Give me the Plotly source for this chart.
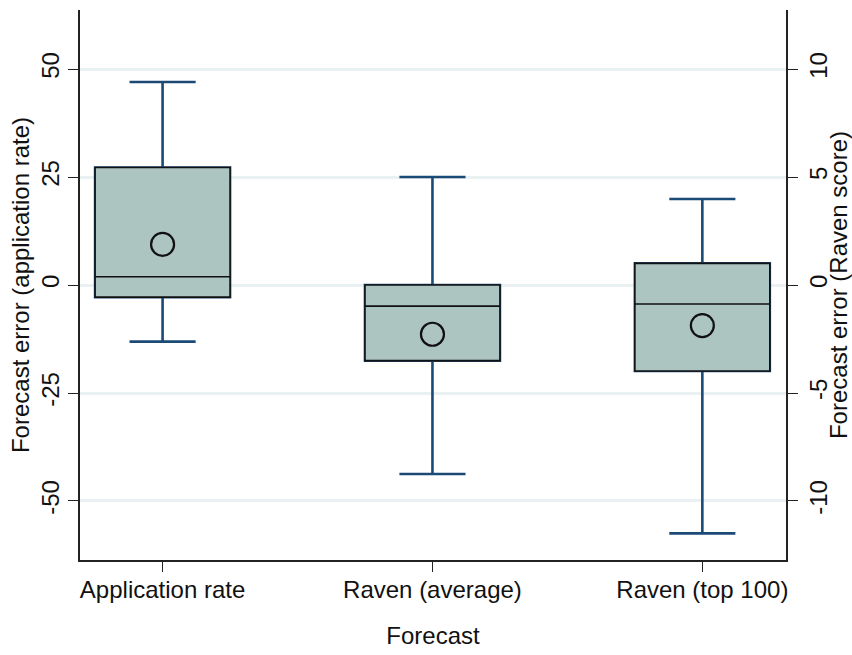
import plotly.graph_objects as go

# Forecast categories along the x axis
categories = ["Application rate", "Raven (average)", "Raven (top 100)"]
positions = [0, 1, 2]

# Application-rate forecast error (left axis units)
app_lower = [-13.1]
app_q1 = [-2.8]
app_median = [1.9]
app_q3 = [27.2]
app_upper = [47.0]
app_mean = [9.4]

# Raven forecast errors (right axis units: Raven score)
raven_lower = [-8.75, -11.5]
raven_q1 = [-3.5, -3.98]
raven_median = [-0.98, -0.88]
raven_q3 = [0.0, 1.0]
raven_upper = [5.0, 3.98]
raven_mean = [-2.28, -1.88]

left_ticks = [-50, -25, 0, 25, 50]
right_ticks = [-10, -5, 0, 5, 10]

LEFT_LIM = 63.66
SCALE = 5.0  # left units per Raven-score unit

FILL = "#adc5c0"
WHISKER = "#1c4a76"
FONT = "Liberation Sans, Arial, sans-serif"

fig = go.Figure()


def add_box(x, lo, q1, med, q3, hi, yaxis):
    # whiskers and caps in blue
    fig.add_trace(go.Box(
        x=x, lowerfence=lo, q1=q1, median=med, q3=q3, upperfence=hi,
        width=0.5, whiskerwidth=0.49, boxpoints=False,
        fillcolor="rgba(0,0,0,0)", line=dict(color=WHISKER, width=2.6),
        yaxis=yaxis, showlegend=False, hoverinfo="skip",
    ))
    # filled box with black outline and median
    fig.add_trace(go.Box(
        x=x, lowerfence=q1, q1=q1, median=med, q3=q3, upperfence=q3,
        width=0.5, whiskerwidth=0, boxpoints=False,
        fillcolor=FILL, line=dict(color="#111111", width=1.6),
        yaxis=yaxis, showlegend=False,
    ))


add_box([positions[0]], app_lower, app_q1, app_median, app_q3, app_upper, "y")
add_box(positions[1:], raven_lower, raven_q1, raven_median, raven_q3, raven_upper, "y2")

mean_marker = dict(symbol="circle-open", size=23, color="#111111",
                   line=dict(color="#111111", width=2.2))
fig.add_trace(go.Scatter(x=[positions[0]], y=app_mean, mode="markers",
                         marker=mean_marker, yaxis="y", showlegend=False))
fig.add_trace(go.Scatter(x=positions[1:], y=raven_mean, mode="markers",
                         marker=mean_marker, yaxis="y2", showlegend=False))

tick_font = dict(family=FONT, size=24, color="#111111")

fig.update_layout(
    width=852, height=655,
    margin=dict(l=80, r=66, t=10, b=95),
    paper_bgcolor="white", plot_bgcolor="white",
    boxmode="overlay",
    font=dict(family=FONT, size=24, color="#111111"),
    xaxis=dict(
        range=[-0.306, 2.31], tickmode="array", tickvals=positions,
        ticktext=categories, ticks="outside", ticklen=10, tickwidth=1.3,
        tickcolor="#222222", showline=True, linecolor="#222222", linewidth=1.5,
        showgrid=False, zeroline=False, tickfont=tick_font, automargin=False,
        ticklabelstandoff=-3,
        title=dict(text="Forecast", font=tick_font, standoff=26),
    ),
    yaxis=dict(
        range=[-LEFT_LIM, LEFT_LIM], tickmode="array", tickvals=left_ticks,
        ticktext=[str(v) for v in left_ticks], tickangle=-90,
        ticks="outside", ticklen=10, tickwidth=1.3, tickcolor="#222222",
        showline=True, linecolor="#222222", linewidth=1.5,
        showgrid=True, gridcolor="#eaf1f3", gridwidth=2.5, zeroline=False,
        tickfont=tick_font, automargin=False,
        title=dict(text="Forecast error (application rate)", font=tick_font, standoff=0),
    ),
    yaxis2=dict(
        range=[-LEFT_LIM / SCALE, LEFT_LIM / SCALE], overlaying="y", side="right",
        tickmode="array", tickvals=right_ticks,
        ticktext=[str(v) for v in right_ticks], tickangle=-90,
        ticks="outside", ticklen=10, tickwidth=1.3, tickcolor="#222222",
        showline=True, linecolor="#222222", linewidth=1.5,
        showgrid=False, zeroline=False, tickfont=tick_font, automargin=False,
        title=dict(text="Forecast error (Raven score)", font=tick_font, standoff=1),
    ),
)

fig.write_html("out.html")
